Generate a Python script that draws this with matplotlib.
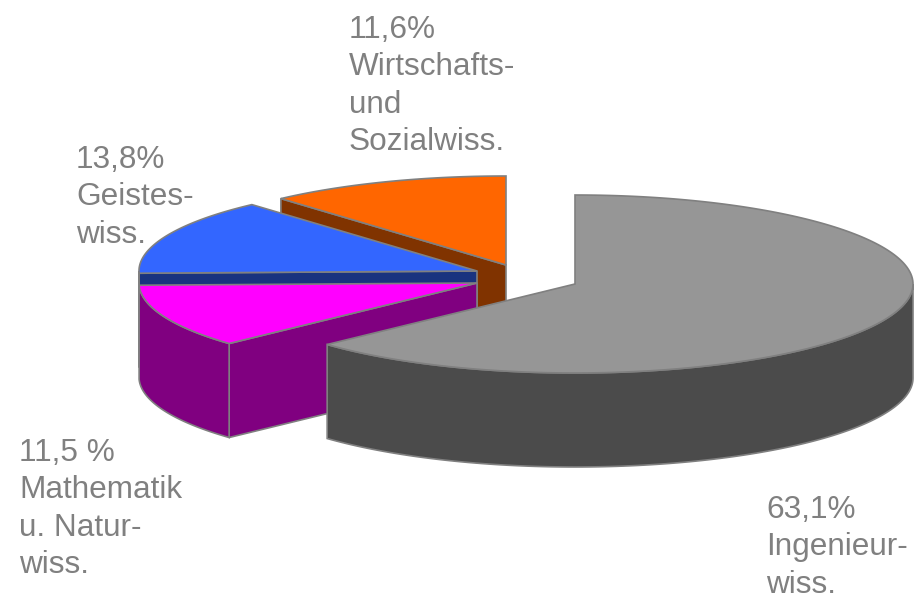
import numpy as np
import matplotlib
matplotlib.use('Agg')
import matplotlib.pyplot as plt
from matplotlib.patches import Polygon

# Werte im Uhrzeigersinn ab 12 Uhr
labels = ['63,1%\nIngenieur-\nwiss.',
          '11,5 %\nMathematik\nu. Natur-\nwiss.',
          '13,8%\nGeistes-\nwiss.',
          '11,6%\nWirtschafts-\nund\nSozialwiss.']
values = [63.1, 11.5, 13.8, 11.6]
top_colors = ['#969696', '#FF00FF', '#3366FF', '#FF6600']
wall_colors = ['#4B4B4B', '#800080', '#19337F', '#803300']

# Explosion: Mittelpunkt jedes Stuecks in Pixeln
centers = [(575, 284), (477, 283), (477, 271), (506, 265)]
label_pos = [(766, 495), (19, 438), (76, 145), (349, 15)]

rx, ry, depth = 338, 89, 94
edge = '#808080'


def rim(c, t):
    t = np.radians(t)
    return np.column_stack([c[0] + rx * np.sin(t), c[1] - ry * np.cos(t)])


fig = plt.figure(figsize=(9.23, 5.94), dpi=100)
ax = fig.add_axes([0, 0, 1, 1])
ax.set_xlim(0, 923)
ax.set_ylim(594, 0)
ax.axis('off')

ends = np.cumsum(values) / sum(values) * 360
starts = np.concatenate([[0], ends[:-1]])

# hinten zuerst zeichnen, grauer Teil zuletzt
for i in [3, 2, 1, 0]:
    c = centers[i]
    a, b = starts[i], ends[i]

    # Schnittflaeche an der Startkante (nicht beim grauen Teil)
    if i > 0:
        p = rim(c, a)[0]
        cut = [c, p, (p[0], p[1] + depth), (c[0], c[1] + depth)]
        ax.add_patch(Polygon(cut, fc=wall_colors[i], ec=edge, lw=1.2, joinstyle='round'))

    # Aussenwand, nur der sichtbare vordere Bereich
    w0, w1 = max(a, 90), min(b, 270)
    if w1 > w0:
        arc = rim(c, np.linspace(w0, w1, 120))
        low = arc[::-1] + [0, depth]
        ax.add_patch(Polygon(np.vstack([arc, low]), fc=wall_colors[i], ec=edge, lw=1.2))

    # Deckflaeche
    arc = rim(c, np.linspace(a, b, 200))
    ax.add_patch(Polygon(np.vstack([[c], arc]), fc=top_colors[i], ec=edge, lw=1.2))

for txt, pos in zip(labels, label_pos):
    ax.text(pos[0], pos[1], txt, family='Liberation Sans', fontsize=22.7,
            color='#808080', ha='left', va='top', linespacing=1.32)

fig.savefig('out.png', dpi=100)
